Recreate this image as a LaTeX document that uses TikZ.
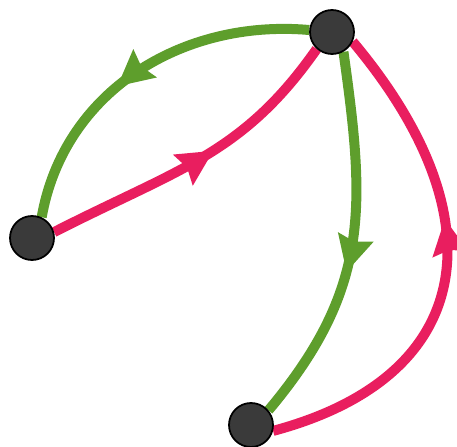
\documentclass[tikz,border=0pt]{standalone}
\usepackage{tikz}
\usepackage{xcolor}
\usetikzlibrary{arrows.meta, decorations.markings, backgrounds}
\definecolor{Leaf_Green}{HTML}{5E9E2C}
\definecolor{Rose_Pink}{HTML}{E91E5F}
\definecolor{Dot_Gray}{HTML}{3A3A3A}

\begin{document}
\begin{tikzpicture}[
    dot/.style={circle, draw=black, fill=Dot_Gray, line width=1pt, minimum size=0.88cm, inner sep=0pt},
    greenline/.style={Leaf_Green, line width=0.2cm},
    pinkline/.style={Rose_Pink, line width=0.2cm},
    midarrow/.style={postaction={decorate, decoration={markings,
        mark=at position #1 with {\arrow{Stealth[length=0.72cm, width=0.74cm, inset=0.1cm, line width=0pt]}}}}}
]
    \useasboundingbox (0, 0) rectangle (9.14, 8.94);

    % Vertices
    \node[dot] (top) at (6.64, 8.30) {};
    \node[dot] (left) at (0.64, 4.18) {};
    \node[dot] (bottom) at (5.02, 0.44) {};

    \begin{scope}[on background layer]
        % Upper pair of edges
        \draw[greenline, midarrow=0.57] (top.175) to[out=175, in=80] (left.65);
        \draw[pinkline, midarrow=0.55] (left.15) .. controls +(27:2.82) and +(235:2.57) .. (top.228);

        % Right pair of edges
        \draw[greenline, midarrow=0.58] (top.-60) .. controls +(-82:3.13) and +(50:3.18) .. (bottom.40);
        \draw[pinkline, midarrow=0.6] (bottom.-15) .. controls +(15:4.3) and +(-50:4.5) .. (top.-25);
    \end{scope}
\end{tikzpicture}
\end{document}
